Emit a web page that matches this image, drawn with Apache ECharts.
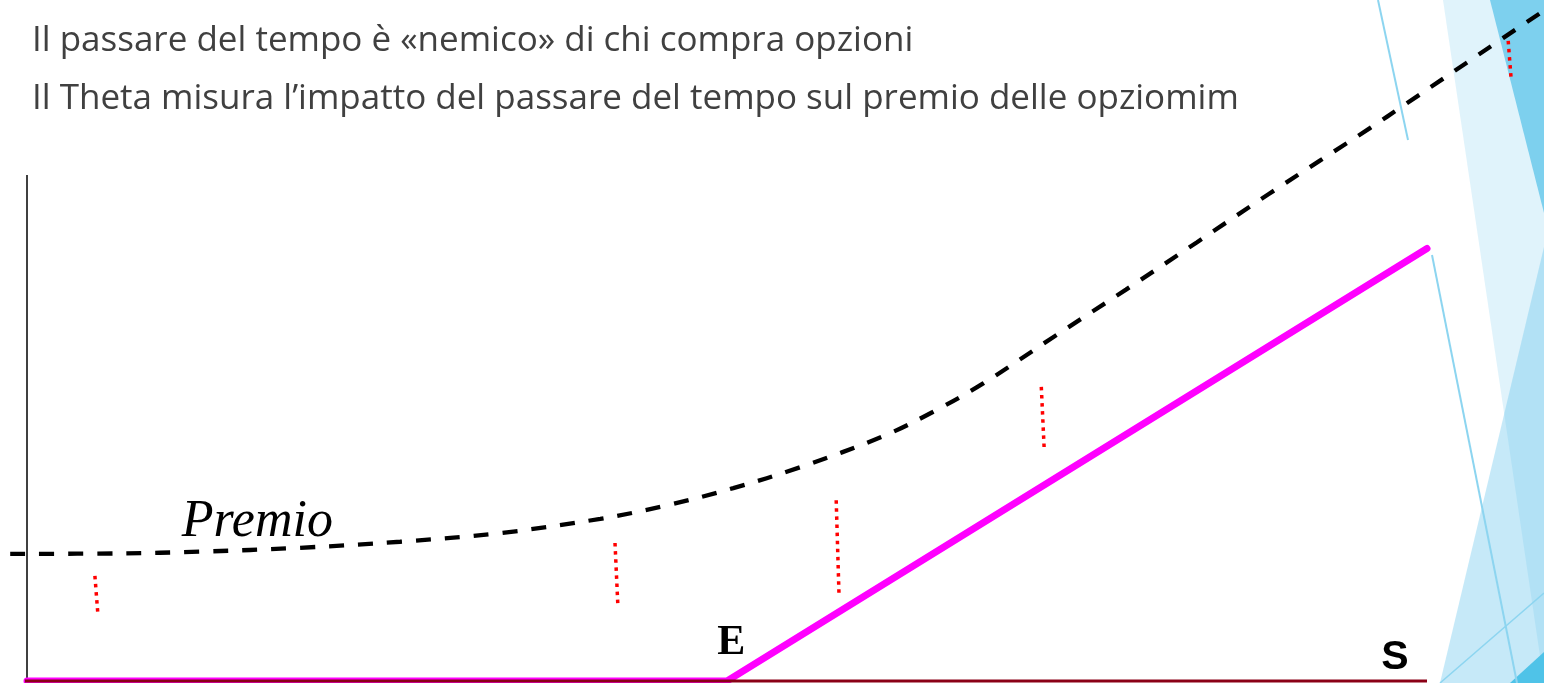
<!DOCTYPE html>
<html>
<head>
<meta charset="utf-8">
<script src="https://cdn.jsdelivr.net/npm/echarts@6/dist/echarts.min.js"></script>
<style>
html,body{margin:0;padding:0;background:#ffffff;}
#chart{width:1544px;height:683px;}
</style>
</head>
<body>
<div id="chart"></div>
<script>
// ---- data ----
const titleLines = [
  'Il passare del tempo è «nemico» di chi compra opzioni',
  'Il Theta misura l\u2019impatto del passare del tempo sul premio delle opziomim'
];
const strike = 100;          // E
const spotMax = 200;         // end of the S axis line
const premioAxisTop = 117;   // top of the vertical axis line
const viewSMin = -2.5, viewSMax = 216.7, viewPMax = 156;
// premium curve (S, premium)
const premioS = [-2.4, 13.3, 24.7, 39.0, 53.3, 67.6, 81.9, 91.4, 100.9, 110.4, 122.3, 129.4, 136.6, 146.7, 157.0, 167.1, 177.4, 191.9, 196.6, 210.9, 216.7];
const premioV = [29.4, 29.5, 29.9, 30.8, 32.2, 34.2, 37.5, 40.6, 44.6, 49.4, 56.6, 62.2, 68.8, 79.6, 90.5, 101.4, 112.6, 127.9, 133.0, 148.7, 155.0];
// intrinsic value (payoff at expiry)
const payoffS = [0, strike, spotMax];
const payoffV = [0, 0, spotMax - strike];
// time-decay markers: [S top, P top, S bottom, P bottom]
const decaySegments = [
  [9.7, 24.3, 10.1, 16.0],
  [84.0, 31.9, 84.4, 17.8],
  [115.6, 41.8, 116.0, 20.1],
  [144.9, 68.0, 145.3, 54.1],
  [211.6, 148.0, 212.0, 139.6]
];
// text labels placed at chart values
const labelNames = ['Premio', 'E', 'S'];
const labelS = [32.9, 100.6, 195.4];
const labelV = [36.6, 8.8, 5.3];

// ---- chart ----
const chart = echarts.init(document.getElementById('chart'), null, {renderer: 'canvas'});

const premioData = premioS.map((s, i) => [s, premioV[i]]);
const payoffData = payoffS.map((s, i) => [s, payoffV[i]]);

const decaySeries = decaySegments.map(d => ({
  type: 'line',
  data: [[d[0], d[1]], [d[2], d[3]]],
  symbol: 'none',
  clip: false,
  silent: true,
  z: 4,
  lineStyle: {color: '#ff0000', width: 3.5, type: [3.5, 4.6], cap: 'butt'}
}));

const labelStyles = [
  {fontFamily: 'Liberation Serif', fontStyle: 'italic', fontSize: 52, color: '#000000'},
  {fontFamily: 'Liberation Serif', fontWeight: 'bold', fontSize: 42, color: '#000000'},
  {fontFamily: 'Liberation Sans', fontWeight: 'bold', fontSize: 41, color: '#000000'}
];

const option = {
  animation: false,
  backgroundColor: '#ffffff',
  grid: {left: 9.5, right: 0.1, top: 6.3, bottom: 2, containLabel: false, outerBoundsMode: 'none'},
  xAxis: {
    type: 'value', min: viewSMin, max: viewSMax,
    axisLine: {show: false}, axisTick: {show: false}, axisLabel: {show: false}, splitLine: {show: false}
  },
  yAxis: {
    type: 'value', min: 0, max: viewPMax,
    axisLine: {show: false}, axisTick: {show: false}, axisLabel: {show: false}, splitLine: {show: false}
  },
  graphic: [
    // slide decoration (right side)
    {type: 'polygon', z: 0, silent: true, shape: {points: [[1443,0],[1544,0],[1544,683]]}, style: {fill: 'rgba(100,195,235,0.2)'}},
    {type: 'polygon', z: 0, silent: true, shape: {points: [[1544,247],[1544,683],[1440,683]]}, style: {fill: 'rgba(100,195,235,0.37)'}},
    {type: 'polygon', z: 0, silent: true, shape: {points: [[1490,0],[1544,0],[1544,213]]}, style: {fill: '#7dd0ee'}},
    {type: 'polygon', z: 0, silent: true, shape: {points: [[1510,683],[1544,652],[1544,683]]}, style: {fill: '#4fc3e8'}},
    {type: 'line', z: 0, silent: true, shape: {x1: 1378, y1: 0, x2: 1408, y2: 140}, style: {stroke: '#8dd5f0', lineWidth: 2}},
    {type: 'line', z: 0, silent: true, shape: {x1: 1432, y1: 255, x2: 1517, y2: 683}, style: {stroke: '#8dd5f0', lineWidth: 2}},
    {type: 'line', z: 0, silent: true, shape: {x1: 1440, y1: 683, x2: 1544, y2: 593}, style: {stroke: '#8dd5f0', lineWidth: 1.5}},
    // title lines
    {type: 'text', z: 10, left: 32, top: 24, style: {text: titleLines[0], fontFamily: 'Open Sans', fontSize: 35, fill: '#404040'}},
    {type: 'text', z: 10, left: 32, top: 82, style: {text: titleLines[1], fontFamily: 'Open Sans', fontSize: 35, fill: '#404040'}}
  ],
  series: [
    {
      type: 'line', name: 'asse premio', data: [[0, 0], [0, premioAxisTop]], symbol: 'none', clip: false, silent: true, z: 3,
      lineStyle: {color: '#000000', width: 1.5}
    },
    {
      type: 'line', name: 'payoff', data: payoffData, symbol: 'none', clip: false, silent: true, z: 3,
      lineStyle: {color: '#ff00ff', width: 7, cap: 'round'}
    },
    {
      type: 'line', name: 'asse S', data: [[-0.3, 0], [spotMax, 0]], symbol: 'none', clip: false, silent: true, z: 3,
      lineStyle: {color: '#8b0016', width: 3}
    },
    {
      type: 'line', name: 'Premio', data: premioData, smooth: 0.35, symbol: 'none', clip: false, silent: true, z: 4,
      lineStyle: {color: '#000000', width: 4.3, type: [15, 14], cap: 'butt'}
    },
    ...decaySeries,
    {
      type: 'scatter', symbolSize: 0, clip: false, silent: true, z: 5,
      itemStyle: {opacity: 1},
      data: labelS.map((s, i) => ({
        value: [s, labelV[i]],
        label: Object.assign({show: true, position: 'inside', align: 'center', verticalAlign: 'middle',
          formatter: labelNames[i]}, labelStyles[i])
      }))
    }
  ]
};
chart.setOption(option);
</script>
</body>
</html>
